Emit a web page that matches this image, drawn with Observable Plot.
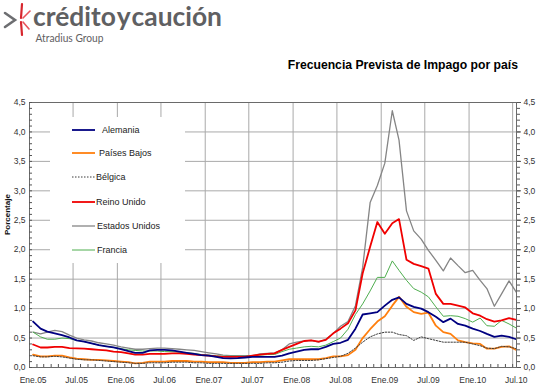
<!DOCTYPE html>
<html><head><meta charset="utf-8">
<script src="https://cdn.jsdelivr.net/npm/d3@7"></script>
<script src="https://cdn.jsdelivr.net/npm/@observablehq/plot@0.6"></script>
<style>
body{margin:0;background:#fff;}
#wrap{position:relative;width:537px;height:392px;overflow:hidden;font-family:"Liberation Sans",Arial,sans-serif;background:#fff;}
#chart{position:absolute;left:0;top:0;}
#logo{position:absolute;left:0;top:0;}
#title{position:absolute;right:19px;top:58px;font-weight:bold;font-size:12.2px;color:#000;white-space:nowrap;}
#legend{position:absolute;left:50px;top:117px;width:135px;height:146px;background:#fff;}
</style></head><body>
<div id="wrap">
  <div id="chart"></div>
  <svg id="logo" width="240" height="50">
    <g stroke-linecap="round">
      <path d="M5,13 L15,20 L5,27" fill="none" stroke="#6d6e71" stroke-width="2.6"/>
      <line x1="21" y1="18" x2="22" y2="4" stroke="#d7262e" stroke-width="2.2"/>
      <line x1="21" y1="22" x2="22" y2="35" stroke="#d7262e" stroke-width="2.2"/>
      <line x1="23" y1="18" x2="30" y2="11" stroke="#e8545a" stroke-width="1.6"/>
      <line x1="23" y1="22" x2="29" y2="29" stroke="#e8545a" stroke-width="1.6"/>
    </g>
    <text x="33" y="26" font-family="Lato, 'Open Sans', sans-serif" font-weight="700" font-size="27" fill="#5f6062" word-spacing="-5" textLength="189" lengthAdjust="spacingAndGlyphs">crédito y caución</text>
    <text x="35.5" y="42" font-family="Lato, 'Open Sans', sans-serif" font-size="11" fill="#5f6062" textLength="68" lengthAdjust="spacingAndGlyphs">Atradius Group</text>
  </svg>
  <div id="title">Frecuencia Prevista de Impago por país</div>
  <div id="legend"></div>
</div>
<script>
// ---- data (monthly, Jan 2005 – Jul 2010) ----
const startYear = 2005, nMonths = 67;
const series = ["Alemania","Países Bajos","Bélgica","Reino Unido","Estados Unidos","Francia"];
const alemania = [0.78,0.66,0.61,0.58,0.55,0.51,0.46,0.44,0.41,0.38,0.36,0.34,0.31,0.28,0.25,0.25,0.29,0.30,
  0.30,0.29,0.27,0.25,0.23,0.21, 0.20,0.18,0.16,0.155,0.16,0.17, 0.18,0.18,0.18,0.18,0.20,0.24,
  0.27,0.30,0.31,0.31,0.35,0.40, 0.42,0.47,0.66,0.90,0.92,0.94, 1.05,1.15,1.19,1.08,1.03,1.00,
  0.94,0.86,0.77,0.83,0.74,0.71, 0.66,0.62,0.57,0.52,0.54,0.52, 0.48];
const paisesBajos = [0.22,0.19,0.19,0.20,0.20,0.17,0.15,0.14,0.13,0.13,0.12,0.11,0.10,0.09,0.07,0.08,0.10,0.10,
  0.10,0.11,0.11,0.11,0.10,0.10, 0.09,0.09,0.09,0.08,0.08,0.08, 0.09,0.09,0.10,0.10,0.12,0.14,
  0.14,0.14,0.14,0.14,0.16,0.19, 0.19,0.21,0.30,0.50,0.65,0.78, 0.87,1.05,1.20,1.03,0.94,0.91,
  0.93,0.71,0.60,0.57,0.46,0.43, 0.41,0.40,0.32,0.32,0.35,0.36, 0.30];
const belgica = [0.20,0.18,0.18,0.19,0.18,0.16,0.14,0.13,0.13,0.12,0.11,0.10,0.09,0.08,0.07,0.07,0.08,0.08,
  0.08,0.09,0.09,0.09,0.08,0.08, 0.07,0.07,0.07,0.07,0.07,0.07, 0.07,0.07,0.08,0.08,0.09,0.11,
  0.12,0.12,0.12,0.13,0.15,0.17, 0.19,0.24,0.33,0.43,0.52,0.57, 0.60,0.60,0.56,0.54,0.46,0.52,
  0.49,0.46,0.43,0.43,0.43,0.43, 0.40,0.37,0.33,0.32,0.36,0.35, 0.32];
const reinoUnido = [0.39,0.34,0.34,0.35,0.35,0.33,0.325,0.32,0.31,0.30,0.29,0.27,0.26,0.24,0.22,0.22,0.23,0.23,
  0.23,0.24,0.24,0.23,0.22,0.21, 0.20,0.19,0.18,0.18,0.18,0.18, 0.20,0.22,0.23,0.24,0.30,0.35,
  0.40,0.45,0.46,0.44,0.47,0.58, 0.66,0.75,0.97,1.60,2.05,2.47, 2.27,2.45,2.52,1.83,1.76,1.72,
  1.68,1.25,1.08,1.08,1.05,1.02, 0.92,0.88,0.82,0.78,0.80,0.84, 0.81];
const estadosUnidos = [0.60,0.57,0.60,0.63,0.61,0.55,0.50,0.47,0.45,0.42,0.40,0.38,0.35,0.33,0.31,0.31,0.32,0.33,
  0.33,0.32,0.31,0.30,0.29,0.27, 0.25,0.23,0.21,0.20,0.20,0.20, 0.20,0.23,0.24,0.25,0.30,0.40,
  0.43,0.45,0.46,0.43,0.48,0.58, 0.70,0.78,1.05,1.70,2.80,3.09, 3.47,4.36,3.86,2.66,2.32,2.18,
  1.99,1.82,1.64,1.86,1.73,1.61, 1.65,1.48,1.34,1.04,1.25,1.47, 1.28];
const francia = [0.60,0.52,0.48,0.48,0.50,0.49,0.46,0.44,0.41,0.38,0.36,0.34,0.32,0.30,0.29,0.28,0.28,0.28,
  0.27,0.27,0.26,0.25,0.24,0.22, 0.21,0.20,0.19,0.19,0.19,0.19, 0.20,0.21,0.22,0.22,0.27,0.31,
  0.33,0.35,0.36,0.35,0.38,0.44, 0.50,0.65,0.90,1.08,1.30,1.53, 1.53,1.81,1.65,1.48,1.34,1.28,
  1.20,1.03,0.87,0.88,0.87,0.83, 0.77,0.84,0.71,0.70,0.80,0.74, 0.67];
const tickLabels = ["Ene.05","Jul.05","Ene.06","Jul.06","Ene.07","Jul.07","Ene.08","Jul.08","Ene.09","Jul.09","Ene.10","Jul.10"];
const yTicks = [0,0.5,1,1.5,2,2.5,3,3.5,4,4.5];

// ---- styles ----
const styles = {
  "Estados Unidos": {stroke:"#858585", width:1.3, dash:null},
  "Francia":        {stroke:"#4fae4f", width:1.0, dash:null},
  "Reino Unido":    {stroke:"#f00000", width:1.8, dash:null},
  "Países Bajos":   {stroke:"#ff7f0e", width:1.8, dash:null},
  "Alemania":       {stroke:"#000080", width:1.8, dash:null},
  "Bélgica":        {stroke:"#3a3a3a", width:1.0, dash:"1.5,1.5"}
};
const values = {"Alemania":alemania,"Países Bajos":paisesBajos,"Bélgica":belgica,"Reino Unido":reinoUnido,"Estados Unidos":estadosUnidos,"Francia":francia};
const drawOrder = ["Estados Unidos","Francia","Reino Unido","Países Bajos","Alemania","Bélgica"];

const monthDate = i => new Date(Date.UTC(startYear, i, 16));
const rows = series.flatMap(s => values[s].map((v, i) => ({series: s, date: monthDate(i), value: v})));
const labelDates = tickLabels.map((_, i) => new Date(Date.UTC(startYear + Math.floor(i/2), (i%2)*6, 16)));
const labelMap = new Map(labelDates.map((d, i) => [+d, tickLabels[i]]));
const gridDates = tickLabels.slice(1).map((_, i) => new Date(Date.UTC(startYear + Math.floor((i+1)/2), ((i+1)%2)*6, 1)));
const monthTicks = d3.range(1, nMonths).map(i => new Date(Date.UTC(startYear, i, 1)));
const minorY = d3.range(0, 46).map(i => i/10);
const fmt = d => d.toFixed(1).replace(".", ",");

const chart = Plot.plot({
  width: 537, height: 392,
  marginLeft: 29, marginRight: 21, marginTop: 102, marginBottom: 25,
  style: {fontFamily: "'Liberation Sans', Arial, sans-serif", fontSize: "8.5px", color: "#333", background: "transparent"},
  x: {type: "utc", domain: [new Date(Date.UTC(2005,0,1)), new Date(Date.UTC(2010,6,17))]},
  y: {domain: [0, 4.5]},
  marks: [
    Plot.ruleY(yTicks.slice(1, -1), {stroke: "#a9a9a9", strokeWidth: 1}),
    Plot.ruleX(gridDates, {stroke: "#a9a9a9", strokeWidth: 1}),
    ...drawOrder.map(s => Plot.line(rows.filter(r => r.series === s), {
      x: "date", y: "value", stroke: styles[s].stroke, strokeWidth: styles[s].width,
      strokeDasharray: styles[s].dash, strokeLinejoin: "round"
    })),
    Plot.frame({stroke: "#6a6a6a"}),
    Plot.axisX({ticks: labelDates, tickSize: 0, tickPadding: 9, tickFormat: d => labelMap.get(+d), fill: "#333"}),
    Plot.axisX({ticks: monthTicks, tickSize: -3, tickFormat: () => "", stroke: "#555"}),
    Plot.axisY({anchor: "left", ticks: yTicks, tickSize: 0, tickPadding: 4, tickFormat: fmt, label: null, fill: "#333"}),
    Plot.axisY({anchor: "left", ticks: minorY, tickSize: -3, tickFormat: () => "", label: null, stroke: "#555"}),
    Plot.axisY({anchor: "right", ticks: minorY, tickSize: 3, tickFormat: () => "", label: null, stroke: "#555"}),
    Plot.axisY({anchor: "right", ticks: yTicks, tickSize: 4, tickPadding: 3, tickFormat: fmt, label: null, fill: "#333", stroke: "#555"}),
    Plot.text(["Porcentaje"], {frameAnchor: "left", dx: -22, rotate: -90, text: d => d, fontWeight: "bold", fontSize: 8, fill: "#111"})
  ]
});
document.getElementById("chart").appendChild(chart);

// ---- legend (HTML overlay with white box) ----
const legendY = {"Alemania":13,"Países Bajos":36,"Bélgica":60,"Reino Unido":85,"Estados Unidos":109,"Francia":133};
const legendTx = {"Alemania":52,"Países Bajos":49,"Bélgica":46,"Reino Unido":46,"Estados Unidos":47,"Francia":47};
const ns = "http://www.w3.org/2000/svg";
const lsvg = document.createElementNS(ns, "svg");
lsvg.setAttribute("width", 135); lsvg.setAttribute("height", 146);
series.forEach(s => {
  const y = legendY[s];
  const ln = document.createElementNS(ns, "line");
  ln.setAttribute("x1", 22); ln.setAttribute("x2", 45);
  ln.setAttribute("y1", y); ln.setAttribute("y2", y);
  ln.setAttribute("stroke", styles[s].stroke);
  ln.setAttribute("stroke-width", styles[s].width);
  if (styles[s].dash) ln.setAttribute("stroke-dasharray", styles[s].dash);
  lsvg.appendChild(ln);
  const t = document.createElementNS(ns, "text");
  t.setAttribute("x", legendTx[s]); t.setAttribute("y", y + 3.2);
  t.setAttribute("font-size", "9px"); t.setAttribute("fill", "#222");
  t.setAttribute("font-family", "'Liberation Sans', Arial, sans-serif");
  t.textContent = s;
  lsvg.appendChild(t);
});
document.getElementById("legend").appendChild(lsvg);
</script>
</body></html>
